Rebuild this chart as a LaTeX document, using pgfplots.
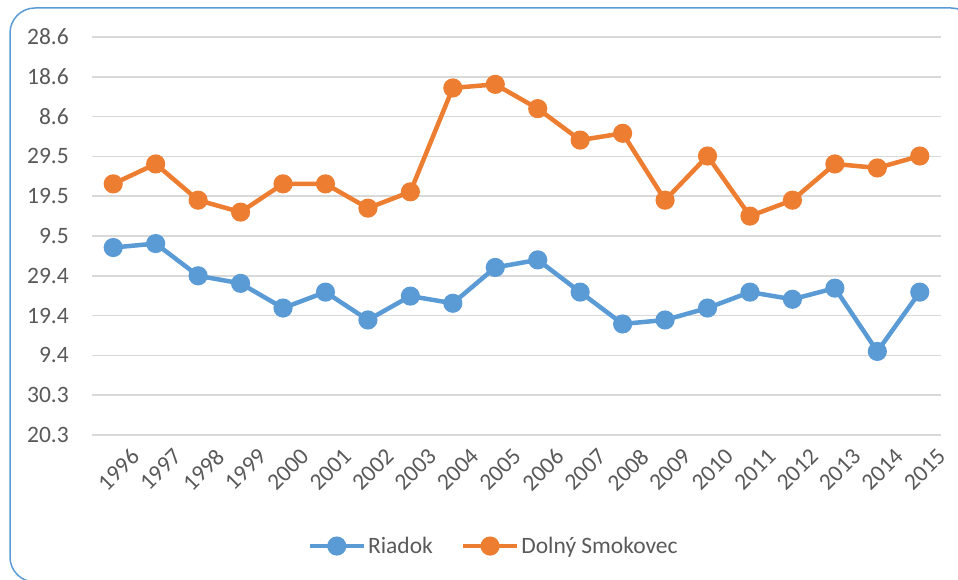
\documentclass[border=0pt]{standalone}
\usepackage{pgfplots}
\pgfplotsset{compat=1.18}
\usepackage{fontspec}
\setmainfont{Carlito}
\definecolor{ser1}{HTML}{5B9BD5}
\definecolor{ser2}{HTML}{ED7D31}
\definecolor{gridc}{HTML}{D9D9D9}
\definecolor{txt}{HTML}{595959}

% positions on the category scale: 1996 -> 0, ..., 2015 -> 19
\pgfplotstableread{
x v
0 4.71
1 4.81
2 4.00
3 3.81
4 3.19
5 3.59
6 2.89
7 3.49
8 3.31
9 4.21
10 4.40
11 3.59
12 2.79
13 2.89
14 3.19
15 3.59
16 3.41
17 3.69
18 2.10
19 3.59
}\riadok

\pgfplotstableread{
x v
0 6.31
1 6.81
2 5.90
3 5.60
4 6.31
5 6.31
6 5.70
7 6.11
8 8.72
9 8.81
10 8.20
11 7.41
12 7.58
13 5.90
14 7.01
15 5.50
16 5.90
17 6.81
18 6.71
19 7.01
}\smokovec

\begin{document}
\begin{tikzpicture}
\useasboundingbox (0pt,0pt) rectangle (958pt,579pt);
\begin{scope}
  \clip (0pt,0pt) rectangle (958pt,579pt);
  \draw[ser1, line width=1.5pt, rounded corners=25pt] (10pt,571pt) rectangle (976pt,-3pt);
\end{scope}
\begin{axis}[
  at={(92pt,144pt)}, anchor=south west,
  scale only axis, width=849pt, height=398pt,
  xmin=-0.5, xmax=19.5, ymin=0, ymax=10,
  clip=false,
  axis line style={draw=none},
  major tick length=0pt,
  xtick={0,...,19},
  xticklabels={1996,1997,1998,1999,2000,2001,2002,2003,2004,2005,2006,2007,2008,2009,2010,2011,2012,2013,2014,2015},
  ytick={0,...,10},
  yticklabels={20.3,30.3,9.4,19.4,29.4,9.5,19.5,29.5,8.6,18.6,28.6},
  ymajorgrids,
  grid style={gridc, line width=1.5pt},
  ticklabel style={font=\fontsize{23.5}{28}\selectfont, text=txt, inner sep=0pt},
  xticklabel style={rotate=45, anchor=north east, xshift=3pt, yshift=-20pt},
  yticklabel style={anchor=east, xshift=-23pt},
  legend columns=2,
  legend style={at={(0.473,-0.279)}, anchor=center, draw=none, fill=none,
    font=\fontsize{23.5}{28}\selectfont, text=txt,
    nodes={inner sep=2pt},
    /tikz/every even column/.style={column sep=26pt}},
  legend image code/.code={
    \draw[mark repeat=2, mark phase=2, #1] plot coordinates {(0pt,0pt) (27pt,0pt) (54pt,0pt)};
  },
  every axis plot/.append style={line width=4.5pt, mark=*, mark size=7.3pt,
    mark options={solid, line width=0.5pt}},
]
\addplot[ser1, mark options={fill=ser1}] table[x=x, y=v] {\riadok};
\addlegendentry{Riadok}
\addplot[ser2, mark options={fill=ser2}] table[x=x, y=v] {\smokovec};
\addlegendentry{Dolný Smokovec}
\end{axis}
\end{tikzpicture}
\end{document}
